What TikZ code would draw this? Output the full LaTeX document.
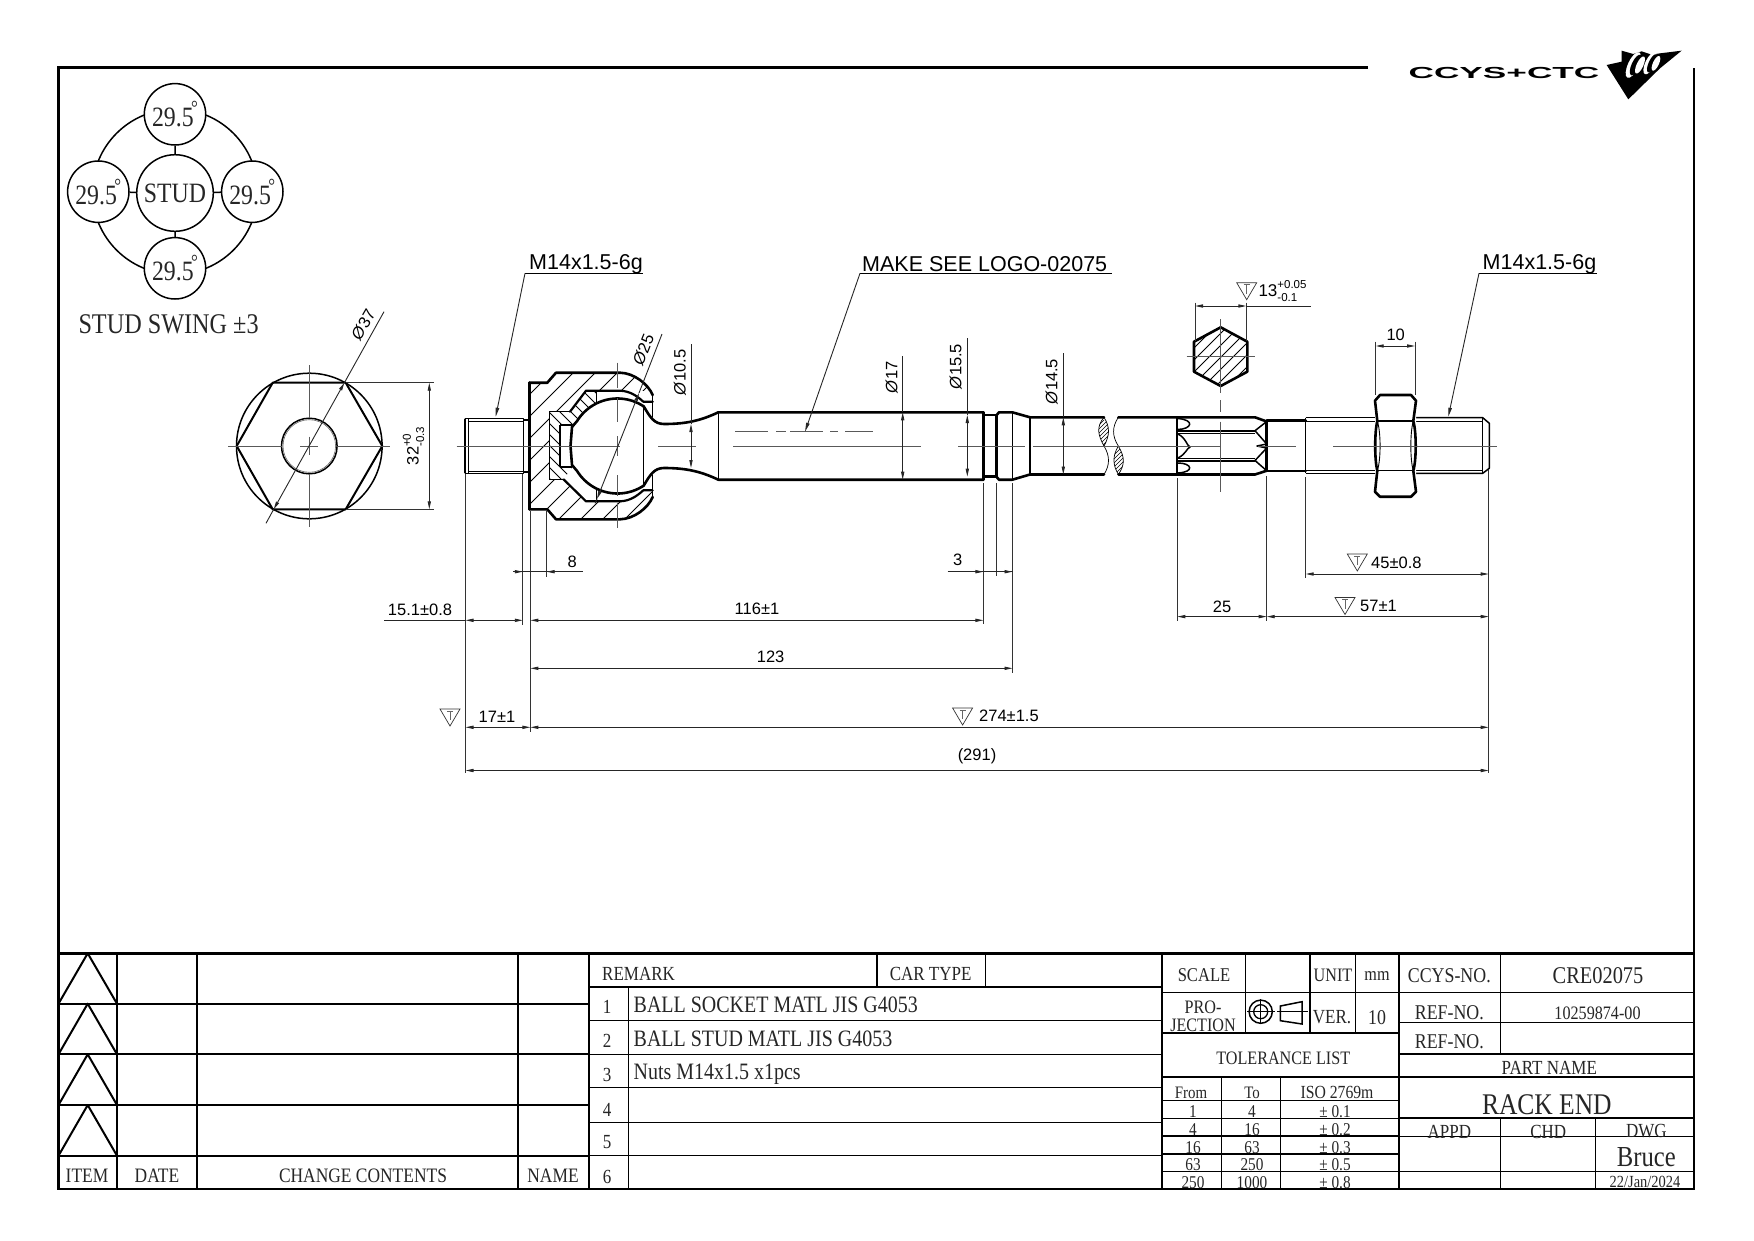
\documentclass[tikz,border=0pt]{standalone}
\usepackage{fontspec}
\usetikzlibrary{arrows.meta}
\setmainfont{Liberation Serif}
\newfontfamily\tbf[FakeStretch=0.85]{Liberation Serif}
\newfontfamily\dimf{Liberation Sans}
\newfontfamily\logof[FakeStretch=2.2]{Liberation Sans Bold}
\tikzset{
  ol/.style={line width=2.6pt,line join=round,line cap=round},
  md/.style={line width=1.5pt,line join=round},
  thn/.style={line width=.9pt},
  hat/.style={line width=.8pt},
  cl/.style={line width=.9pt,draw=black!65},
  ext/.style={line width=.9pt,draw=black!80},
  dm/.style={line width=.9pt,draw=black!85},
  da/.style={dm,{Triangle[length=8pt,width=3.2pt]}-{Triangle[length=8pt,width=3.2pt]}},
  la/.style={dm,-{Triangle[length=9pt,width=3.4pt]}},
  tb/.style={font=\tbf\fontsize{#1}{#1}\selectfont,inner sep=0pt,text=black!85,yshift=-1.5pt},
  dt/.style={font=\dimf\fontsize{#1}{#1}\selectfont,inner sep=0pt},
  gb/.style={line width=1.7pt},
  gt/.style={line width=2.6pt},
  sc/.style={circle,draw,line width=1.5pt,fill=white,inner sep=0pt,minimum size=61.4pt,font=\tbf\fontsize{28}{28}\selectfont,text=black!85},
}
\newcommand{\tmark}[2]{\begin{scope}[shift={(#1,#2)}]
 \draw[line width=.7pt,draw=black!80] (-10,-8)--(10,-8)--(0,9)--cycle;
 \draw[line width=.7pt,draw=black!60] (-3,-6)--(3,-6) (0,-6)--(0,3);
\end{scope}}
\newcommand{\tolst}[2]{\raisebox{-5.5pt}{\fontsize{11.5}{11.5}\selectfont\shortstack[l]{#1\\[2pt]#2}}}
\newcommand{\degr}{\hspace{-2.5pt}\raisebox{.42em}{\fontsize{20}{20}\selectfont°}}
\begin{document}
\begin{tikzpicture}[x=1pt,y=-1pt]
\useasboundingbox (0,0) rectangle (1754,1240);
\fill[white] (0,0) rectangle (1754,1240);
% frame
\draw[gt] (1368,67.5)--(58.5,67.5)--(58.5,1189)--(1694,1189)--(1694,68);
% ---------- stud swing
\draw[md] (175,191.7) circle (82.6);
\node[sc] (st) at (175,114.3) {29.5\degr};
\node[sc] (sl) at (98.3,191.7) {29.5\degr};
\node[sc] (sr) at (252.3,191.7) {29.5\degr};
\node[sc] (sb) at (175,268.3) {29.5\degr};
\node[sc,minimum size=76.6pt] (sm) at (175,193) {STUD};
\draw[md] (sm)--(st) (sm)--(sl) (sm)--(sr) (sm)--(sb);
\node[tb=28.5,anchor=west] (swing) at (78.3,323) {STUD SWING ±3};
% ---------- end view
\draw[md] (309.3,446) circle (72.8);
\draw[ol,line width=2pt] (236.7,446)--(272.7,382.7)--(345.7,382.7)--(382.3,446)--(345.7,509.3)--(272.7,509.3)--cycle;
\draw[md] (309.3,446) circle (27.8);
\draw[line width=.6pt,draw=black!60] (309.3,446) circle (26.3);
\draw[cl] (228.3,446)--(281.5,446) (300,446)--(318,446) (337,446)--(390,446)
          (309.3,365)--(309.3,418.2) (309.3,436.7)--(309.3,455) (309.3,473.8)--(309.3,526.7);
\draw[dm] (384,311.7)--(344.4,382.7) (273.7,509.3)--(266,523.3);
\draw[da] (344.4,382.7)--(273.7,509.3);
\node[dt=16.5,rotate=60] (d37) at (363.3,325) {\textit{Ø}37};
\draw[ext] (345.7,382.7)--(433.5,382.7) (345.7,509.3)--(433.5,509.3);
\draw[da] (429.3,382.7)--(429.3,509.3);
\node[dt=16.5,rotate=90] (d32) at (413.5,446) {32\tolst{+0}{-0.3}};
% ---------- left stud
\draw[ol,line width=2.4pt] (465,419.5)--(465,472.5);
\draw[md] (465,418.3)--(523.3,418.3)--(523.3,473.3)--(465,473.3);
\draw[thn] (468.5,421)--(523.3,421) (468.5,471)--(523.3,471) (468.5,418.3)--(468.5,473.3);
\draw[md] (523.3,420)--(529.3,420) (523.3,472)--(529.3,472);
% ---------- socket hatching
\begin{scope}
\clip (529.3,382.7)--(547.3,382.7)--(556,372.7)--(620,372.7) .. controls (634,373) and (648,384) .. (652.7,395)--(652.7,401.7)
 --(652.7,490.3)--(652.7,497) .. controls (648,508) and (634,519) .. (620,519.3)--(556,519.3)--(547.3,509.3)--(529.3,509.3)--cycle;
\foreach \c in {360,382,...,800}{\draw[hat] (\c,520)--(\c+160,360);}
\end{scope}
% cavity
\path[fill=white] (549.3,411.7)--(570,411.7)--(586,390.7)--(620,390.7) .. controls (630,391) and (637,396) .. (643.3,401.7)--(660,401.7)--(660,490.3)--(643.3,490.3)
  .. controls (637,496) and (630,501) .. (620,501.3)--(586,501.3)--(564,479.3)--(549.3,479.3)--cycle;
\begin{scope}
\clip (549.3,411.7)--(570,411.7)--(586,390.7)--(596,390.7)--(596,501.3)--(586,501.3)--(564,479.3)--(549.3,479.3)--cycle;
\foreach \c in {420,431,...,640}{\draw[hat] (\c,360)--(\c+160,520);}
\end{scope}
% ball, pocket
\path[fill=white] plot[domain=-57:-148,samples=40] ({617.5+47.5*cos(\x)},{446+47.5*sin(\x)}) -- (572,427)--(570.5,446)--(572,465) -- plot[domain=148:57,samples=40] ({617.5+47.5*cos(\x)},{446+47.5*sin(\x)})--cycle;
\path[fill=white] (560,425)--(576,425)--(576,467)--(560,467)--cycle;
\path[fill=white] (566,476)--(586,500)--(596,500.7)--(596,489)--(574,466)--cycle;
\path[fill=white] (596,391)--(644,391)--(644,406)--(596,400)--cycle;
\draw[ol] (529.3,382.7)--(547.3,382.7)--(556,372.7)--(620,372.7) .. controls (634,373) and (648,384) .. (652.7,395);
\draw[ol] (529.3,509.3)--(547.3,509.3)--(556,519.3)--(620,519.3) .. controls (634,519) and (648,508) .. (652.7,497);
\draw[ol] (529.3,382.7)--(529.3,509.3);
\draw[md] (549.3,411.7)--(570,411.7);
\draw[md] (549.3,479.3)--(563.5,479.3);
\draw[md] (549.3,411.7)--(549.3,479.3);
\draw[md] (560,425)--(572,425) (560,467)--(572,467) (560,425)--(560,467);
\draw[ol,line width=2.2pt] (570,411.7)--(586,390.7)--(620,390.7) .. controls (630,391) and (637,396) .. (643.3,401.7)--(652.7,401.7);
\draw[ol,line width=2.2pt] (563.5,479.3)--(586,501.3)--(620,501.3) .. controls (630,501) and (637,496) .. (643.3,490.3)--(652.7,490.3);
\draw[thn] (596,390.7)--(596,402) (596,490)--(596,501.3);
\draw[thn] (652.7,395)--(652.7,417) (652.7,475)--(652.7,497);
% ball outline
\draw[ol] plot[domain=-57:-148,samples=40] ({617.5+47.5*cos(\x)},{446+47.5*sin(\x)}) -- (572,427)--(570.5,446)--(572,465) -- plot[domain=148:57,samples=40] ({617.5+47.5*cos(\x)},{446+47.5*sin(\x)});
\draw[md] (643.5,406)--(643.5,486);
% neck and shaft
\draw[ol] (643.5,406) .. controls (650,417) and (654,424) .. (664,424) .. controls (685,424) and (700,421) .. (718.3,412.3)--(983.3,412.3);
\draw[ol] (643.5,486) .. controls (650,475) and (654,468) .. (664,468) .. controls (685,468) and (700,471) .. (718.3,479.7)--(983.3,479.7);
\draw[md] (718.3,412.3)--(718.3,479.7);
\draw[ol] (983.3,412.3)--(983.3,479.7);
\draw[ol] (983.3,415)--(996.7,415) (983.3,476.7)--(996.7,476.7);
\draw[ol] (996.7,415)--(999,412.3)--(1012.3,412.3)--(1030,417.3)--(1104,417.3);
\draw[ol] (996.7,477)--(999,479.7)--(1012.3,479.7)--(1030,474.5)--(1104,474.5);
\draw[ol] (996.7,415)--(996.7,477);
\draw[thn] (1012.3,412.3)--(1012.3,479.7);
\draw[ol] (1030,417.3)--(1030,474.5);
% break
\begin{scope}
\clip (1104,417.3) .. controls (1096,427) and (1098,435) .. (1104,446) .. controls (1110,435) and (1110,427) .. (1104,417.3);
\foreach \c in {1060,1064,...,1130}{\draw[line width=.6pt] (\c,460)--(\c+40,420);}
\end{scope}
\begin{scope}
\clip (1118.3,446) .. controls (1112,457) and (1113,465) .. (1118.3,474.5) .. controls (1125,465) and (1125,457) .. (1118.3,446);
\foreach \c in {1075,1079,...,1150}{\draw[line width=.6pt] (\c,490)--(\c+50,440);}
\end{scope}
\draw[line width=.7pt] (1104,417.3) .. controls (1096,427) and (1098,435) .. (1104,446) .. controls (1110,456) and (1110,465) .. (1104,474.5);
\draw[line width=.7pt] (1104,417.3) .. controls (1110,427) and (1110,435) .. (1104,446);
\draw[line width=.7pt] (1118.3,417.3) .. controls (1112,427) and (1112,436) .. (1118.3,446) .. controls (1125,457) and (1125,465) .. (1118.3,474.5);
\draw[line width=.7pt] (1118.3,446) .. controls (1112,457) and (1113,465) .. (1118.3,474.5);
% splined section
\draw[ol] (1118.3,417.3)--(1255,417.3)--(1266.7,421.5);
\draw[ol] (1118.3,474.5)--(1255,474.5)--(1266.7,470.7);
\draw[ol,line width=2pt] (1177.3,417.3)--(1177.3,474.5);
\draw[ol,line width=2pt] (1178,430.7)--(1255,430.7) (1178,460.5)--(1255,460.5);
\draw[thn] (1178,433.3)--(1255,433.3) (1178,458)--(1255,458);
\draw[md] (1178,418.5) .. controls (1195,420) and (1192,429) .. (1178,429.5);
\draw[md] (1178,434) .. controls (1186,438) and (1187,446) .. (1190,447) .. controls (1187,448) and (1186,454) .. (1178,458);
\draw[md] (1178,463) .. controls (1192,463) and (1195,472) .. (1178,473);
\draw[md] (1266.7,421.5)--(1255,430.7)--(1266.7,444)--(1257,446)--(1266.7,448)--(1255,460.5)--(1266.7,470.7);
\draw[ol] (1266.7,421.5)--(1266.7,470.7);
\draw[ol] (1266.7,420.5)--(1305.7,420.5) (1266.7,471)--(1305.7,471);
% thread right
\draw[md] (1305.7,417.7)--(1305.7,473.3);
\draw[md] (1305.7,417.7)--(1375,417.7) (1305.7,473.3)--(1375,473.3);
\draw[md] (1416,417.7)--(1482.7,417.7)--(1489.3,423.3)--(1489.3,468.3)--(1482.7,473.3)--(1416,473.3);
\draw[thn] (1305.7,421)--(1375,421) (1416,421)--(1482.7,421) (1305.7,470.5)--(1375,470.5) (1416,470.5)--(1482.7,470.5) (1482.7,417.7)--(1482.7,473.3);
% nut
\path[fill=white] (1380,395)--(1411,395)--(1416,401)--(1416,491)--(1411,496.7)--(1380,496.7)--(1375,491)--(1375,401)--cycle;
\draw[ol] (1380,395)--(1411,395)--(1416,400.7)--(1413.3,421) .. controls (1416.5,432) and (1416.5,460) .. (1413.3,470.7)--(1416,491.7)--(1411,496.7)--(1380,496.7)--(1375,491.7)--(1377.3,470.7) .. controls (1374.5,460) and (1374.5,432) .. (1377.3,421)--(1375,400.7)--cycle;
\draw[md] (1377.3,421)--(1413.3,421) (1377.3,470.7)--(1413.3,470.7);
\draw[thn] (1377.3,421) .. controls (1381,432) and (1381,460) .. (1377.3,470.7);
\draw[thn] (1413.3,421) .. controls (1410,432) and (1410,460) .. (1413.3,470.7);
% centre lines of main view
\draw[cl] (456.7,446)--(620,446) (658,446)--(696,446) (733,446)--(921,446) (958,446)--(1025,446) (1033,446)--(1220,446) (1258,446)--(1295.7,446) (1333,446)--(1496.7,446);
\draw[cl] (617.5,362.7)--(617.5,388) (617.5,398)--(617.5,422) (617.5,436)--(617.5,456) (617.5,475)--(617.5,496) (617.5,503)--(617.5,528);
\draw[cl] (735,431.7)--(768,431.7) (776,431.7)--(786,431.7) (790,431.7)--(823.3,431.7) (830,431.7)--(838.3,431.7) (845,431.7)--(872.7,431.7);
\draw[cl] (1220.7,400)--(1220.7,411.7) (1220.7,421.7)--(1220.7,491.7);
% section hex
\begin{scope}
\clip (1220.7,327.3)--(1247.3,341.7)--(1247.3,371.7)--(1220.7,386)--(1194,371.7)--(1194,341.7)--cycle;
\foreach \c in {1130,1142,...,1260}{\draw[hat] (\c,400)--(\c+90,310);}
\end{scope}
\draw[ol] (1220.7,327.3)--(1247.3,341.7)--(1247.3,371.7)--(1220.7,386)--(1194,371.7)--(1194,341.7)--cycle;
\draw[cl] (1186.7,356.7)--(1255,356.7) (1220.7,319.3)--(1220.7,393.3);
% leaders
\draw[thn] (525,273.3)--(642.7,273.3);
\draw[la] (525,273.3)--(495.7,416.7);
\node[dt=21.5,anchor=west] (m1) at (529,264.5) {M14x1.5-6g};
\draw[thn] (860,273.3)--(1111.7,273.3);
\draw[la] (860,273.3)--(805,431.7);
\node[dt=21.5,anchor=west] (mk) at (862,264) {MAKE SEE LOGO-02075};
\draw[thn] (1479,273.3)--(1597,273.3);
\draw[la] (1479,273.3)--(1448.3,416.7);
\node[dt=21.5,anchor=west] (m2) at (1482.5,264.5) {M14x1.5-6g};
% top dims
\draw[dm] (691,344)--(691,424);
\draw[da] (691,424)--(691,468);
\node[dt=16.5,rotate=90] (d105) at (680,372.3) {\textit{Ø}10.5};
\draw[dm] (662,334)--(639,393);
\draw[da] (639,393)--(597,499);
\draw[dm] (597,499)--(595,503.3);
\node[dt=16.5,rotate=68] (d25) at (643.3,350) {\textit{Ø}25};
\draw[dm] (902.7,356)--(902.7,412.3);
\draw[da] (902.7,412.3)--(902.7,479.7);
\node[dt=16.5,rotate=90] (d17) at (891.7,377.3) {\textit{Ø}17};
\draw[dm] (967.3,338.3)--(967.3,415);
\draw[da] (967.3,415)--(967.3,476.7);
\node[dt=16.5,rotate=90] (d155) at (955.7,366.7) {\textit{Ø}15.5};
\draw[dm] (1063.3,353.3)--(1063.3,417.3);
\draw[da] (1063.3,417.3)--(1063.3,474.5);
\node[dt=16.5,rotate=90] (d145) at (1051.7,381.7) {\textit{Ø}14.5};
\draw[ext] (1195,302.7)--(1195,341) (1246.3,302.7)--(1246.3,341);
\draw[da] (1195,306)--(1246.3,306);
\draw[dm] (1246.3,306)--(1311,306);
\tmark{1246.7}{290.7}
\node[dt=17,anchor=west] (d13) at (1258.3,291) {13\tolst{+0.05}{-0.1}};
\draw[ext] (1375.7,341.7)--(1375.7,395) (1415,341.7)--(1415,395);
\draw[da] (1375.7,346)--(1415,346);
\node[dt=16.5] (d10) at (1395.7,335) {10};
% lower extension lines
\draw[ext] (465.5,474)--(465.5,773) (522.8,474)--(522.8,625) (530.4,511)--(530.4,732) (546.7,511)--(546.7,577);
\draw[ext] (983.4,483)--(983.4,624) (996.7,483)--(996.7,576) (1012.5,483)--(1012.5,673);
\draw[ext] (1177.3,478)--(1177.3,621) (1266.7,476)--(1266.7,621) (1305.7,477)--(1305.7,578) (1488.7,470)--(1488.7,773);
% lower dims
\draw[dm] (513.3,571.7)--(582.7,571.7);
\draw[dm,-{Triangle[length=8pt,width=3.2pt]}] (513.3,571.7)--(522.8,571.7);
\draw[dm,-{Triangle[length=8pt,width=3.2pt]}] (560,571.7)--(546.7,571.7);
\node[dt=16.5] (d8) at (572.3,561.7) {8};
\draw[dm] (947.7,571.7)--(1012.5,571.7);
\draw[dm,-{Triangle[length=8pt,width=3.2pt]}] (960,571.7)--(983.4,571.7);
\draw[dm,-{Triangle[length=8pt,width=3.2pt]}] (1000,571.7)--(1012.5,571.7);
\node[dt=16.5] (d3) at (957.7,559.5) {3};
\draw[dm] (384,620.3)--(465.5,620.3);
\draw[da] (465.5,620.3)--(522.8,620.3);
\node[dt=16.5] (d151) at (420,609.5) {15.1±0.8};
\draw[da] (530.4,620.3)--(983.4,620.3);
\node[dt=16.5] (d116) at (757,608.8) {116±1};
\draw[da] (530.4,668.3)--(1012.5,668.3);
\node[dt=16.5] (d123) at (770.6,657) {123};
\draw[da] (465.5,727.3)--(530.4,727.3);
\node[dt=16.5] (d17t) at (497,717) {17±1};
\tmark{450}{717}
\draw[da] (530.4,727.3)--(1488.7,727.3);
\tmark{962.6}{716}
\node[dt=16.5,anchor=west] (d274) at (979,716) {274±1.5};
\draw[da] (465.5,770.5)--(1488.7,770.5);
\node[dt=16.5] (d291) at (977,756.5) {(291)};
\draw[da] (1305.7,574)--(1488.7,574);
\tmark{1357.3}{562}
\node[dt=16.5,anchor=west] (d45) at (1371,562.5) {45±0.8};
\draw[da] (1177.3,616.6)--(1266.7,616.6);
\node[dt=16.5] (d25b) at (1222,606.5) {25};
\draw[da] (1266.7,616.6)--(1488.7,616.6);
\tmark{1345}{605.5}
\node[dt=16.5,anchor=west] (d57) at (1360,606) {57±1};
% logo
\node[font=\logof\fontsize{16}{16}\selectfont,inner sep=0pt] (logo) at (1504,72.5) {CCYS+CTC};
\begin{scope}[shift={(1350,30)},x=.3333pt,y=-.3333pt]
\fill (770,105)--(815,95)--(815,62)--(850,72)--(875,64)--(905,74)--(930,70)--(995,62)--(930,115)--(835,208)--cycle;
\fill[white,rotate around={-25:(850,105)}] (850,105) ellipse [x radius=16,y radius=42];
\fill[rotate around={-25:(858,105)}] (858,105) ellipse [x radius=13,y radius=34];
\fill[white,rotate around={-25:(870,105)}] (870,105) ellipse [x radius=10,y radius=28];
\fill[white,rotate around={-25:(900,100)}] (900,100) ellipse [x radius=14,y radius=36];
\fill[rotate around={-25:(907,100)}] (907,100) ellipse [x radius=11,y radius=30];
\fill[white,rotate around={-25:(918,100)}] (918,100) ellipse [x radius=9,y radius=24];
\end{scope}
% ---------- title block grid
\draw[gt] (58.5,953.3)--(1694,953.3);
% left part
\draw[gb,line width=2pt] (117,953.3)--(117,1189) (197,953.3)--(197,1189) (518,953.3)--(518,1189) (589,953.3)--(589,1189);
\draw[gb,line width=2pt] (58.5,1003.7)--(589,1003.7) (58.5,1054.3)--(589,1054.3) (58.5,1105)--(589,1105) (58.5,1155.7)--(589,1155.7);
\foreach \a/\b in {953.3/1003.7,1003.7/1054.3,1054.3/1105,1105/1155.7}{
 \draw[line width=2pt,line join=round] (58.5,\b)--(87.7,\a)--(117,\b);}
\node[tb=20.5] (n1) at (87,1174.5) {ITEM};
\node[tb=20.5] (n2) at (157,1174.5) {DATE};
\node[tb=20.5] (n3) at (363,1174.5) {CHANGE CONTENTS};
\node[tb=20.5] (n4) at (553,1174.5) {NAME};
% remark part
\draw[gb] (589,986.7)--(1162,986.7);
\draw[gb,line width=1.3pt] (589,1020.7)--(1162,1020.7) (589,1054.3)--(1162,1054.3) (589,1087.7)--(1162,1087.7) (589,1122.3)--(1162,1122.3) (589,1155.7)--(1162,1155.7);
\draw[gb] (628.4,986.7)--(628.4,1189) (876.8,953.3)--(876.8,986.7);
\draw[gb,line width=1.3pt] (985.2,953.3)--(985.2,986.7);
\draw[gb,line width=2pt] (1162,953.3)--(1162,1189);
\node[tb=20,anchor=west] (r1) at (602,972.5) {REMARK};
\node[tb=20] (r2) at (930.6,972.5) {CAR TYPE};
\foreach \i/\y in {1/1005,2/1039.3,3/1073.3,4/1108.3,5/1140.7,6/1175}{\node[tb=20] (k\i) at (607,\y) {\i};}
\node[tb=23.5,anchor=west] (t1) at (633.5,1003.3) {BALL SOCKET MATL JIS G4053};
\node[tb=23.5,anchor=west] (t2) at (633.5,1037.5) {BALL STUD MATL JIS G4053};
\node[tb=23.5,anchor=west] (t3) at (633.5,1072.5) {Nuts M14x1.5 x1pcs};
% scale part
\draw[gb,line width=1.3pt] (1162,992.7)--(1398.6,992.7);
\draw[gb,line width=2.2pt] (1162,1032.7)--(1398.6,1032.7);
\draw[gb,line width=1.3pt] (1162,1077)--(1398.6,1077) (1162,1100.7)--(1398.6,1100.7) (1162,1118.3)--(1398.6,1118.3) (1162,1136)--(1398.6,1136) (1162,1154)--(1398.6,1154) (1162,1171.7)--(1398.6,1171.7);
\draw[gb,line width=1.3pt] (1245.7,953.3)--(1245.7,1032.7) (1355.7,953.3)--(1355.7,1032.7) (1221.8,1077)--(1221.8,1189) (1280.7,1077)--(1280.7,1189);
\draw[gb,line width=2pt] (1310,953.3)--(1310,1032.7);
\draw[gb,line width=2.2pt] (1398.6,953.3)--(1398.6,1189);
\node[tb=19.5] (s1) at (1204,974) {SCALE};
\node[tb=19] (s2) at (1333,974) {UNIT};
\node[tb=19] (s3) at (1377,975) {mm};
\node[tb=19] (s4) at (1203,1006) {PRO-};
\node[tb=19] (s5) at (1203,1023.5) {JECTION};
\node[tb=20] (s6) at (1332,1016) {VER.};
\node[tb=21] (s7) at (1377,1016) {10};
\node[tb=19] (s8) at (1283.2,1057) {TOLERANCE LIST};
\draw[line width=1.5pt] (1260.7,1011.7) circle (11.6);
\draw[line width=1.3pt] (1260.7,1011.7) circle (7);
\draw[line width=.8pt] (1247,1011.7)--(1275,1011.7) (1260.7,999.3)--(1260.7,1024);
\draw[line width=1.5pt] (1302,1001.7)--(1302,1024)--(1280.4,1020.7)--(1280.4,1006)--cycle;
\draw[line width=.8pt] (1277,1011.7)--(1308,1011.7);
% tolerance table
\node[tb=17.5] (h1) at (1191,1091.5) {From};
\node[tb=17.5] (h2) at (1252,1091.5) {To};
\node[tb=18.5] (h3) at (1337,1090.5) {ISO 2769m};
\foreach \i/\y/\a/\b/\c in {1/1110/1/4/0.1,2/1128/4/16/0.2,3/1145.7/16/63/0.3,4/1163/63/250/0.5,5/1180.7/250/1000/0.8}{
 \node[tb=18] (a\i) at (1193,\y) {\a};
 \node[tb=18] (b\i) at (1252,\y) {\b};
 \node[tb=18] (c\i) at (1335,\y) {± \c};
}
% right part
\draw[gb,line width=1.3pt] (1398.6,992.7)--(1694,992.7) (1398.6,1022.7)--(1694,1022.7) (1398.6,1077)--(1694,1077) (1398.6,1136.7)--(1694,1136.7) (1398.6,1171.7)--(1694,1171.7);
\draw[gb,line width=2.2pt] (1398.6,1054.3)--(1694,1054.3) (1398.6,1118.3)--(1694,1118.3);
\draw[gb,line width=1.3pt] (1500.4,953.3)--(1500.4,1054.3) (1500.4,1118.3)--(1500.4,1189) (1595.7,1118.3)--(1595.7,1189);
\node[tb=21] (p1) at (1449.3,974) {CCYS-NO.};
\node[tb=24] (p2) at (1598,974) {CRE02075};
\node[tb=21] (p3) at (1449.3,1011) {REF-NO.};
\node[tb=19] (p4) at (1597.5,1011.5) {10259874-00};
\node[tb=21] (p5) at (1449.3,1040) {REF-NO.};
\node[tb=20] (p6) at (1549.3,1066) {PART NAME};
\node[tb=30] (p7) at (1546.8,1103) {RACK END};
\node[tb=20] (p8) at (1449.3,1130) {APPD};
\node[tb=20] (p9) at (1548.2,1130) {CHD};
\node[tb=20] (p10) at (1646.4,1130) {DWG};
\node[tb=29] (p11) at (1646.4,1156) {Bruce};
\node[tb=17] (p12) at (1645,1180) {22/Jan/2024};
\end{tikzpicture}
\end{document}
